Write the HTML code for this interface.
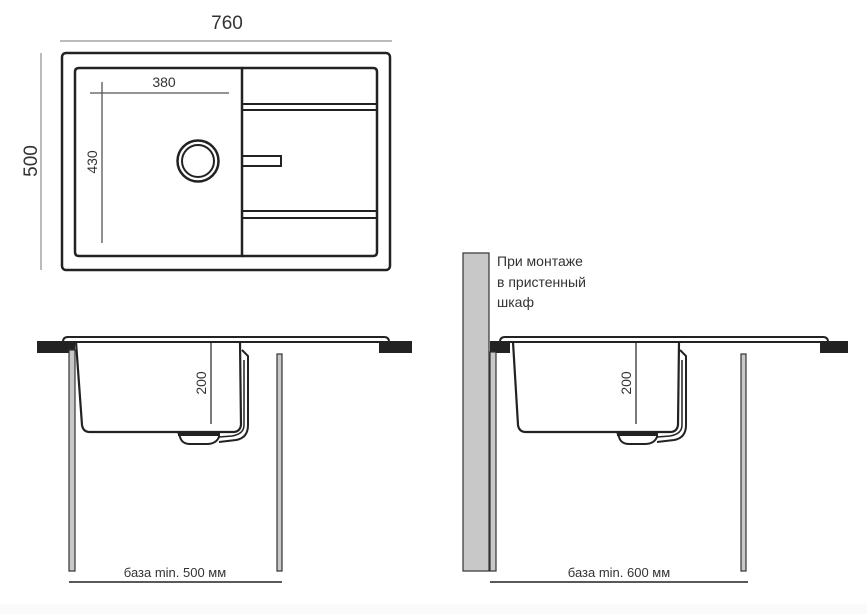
<!DOCTYPE html>
<html><head><meta charset="utf-8"><style>
body{margin:0;background:#fff}
svg{display:block}
text{font-family:"Liberation Sans",sans-serif;fill:#333}
</style></head><body>
<svg width="867" height="614" viewBox="0 0 867 614" xmlns="http://www.w3.org/2000/svg">
<rect x="0" y="604" width="867" height="10" fill="#fafafa"/>
<!-- top view -->
<line x1="60" y1="41" x2="392" y2="41" stroke="#777" stroke-width="1"/>
<text x="227" y="29" font-size="19" text-anchor="middle">760</text>
<line x1="41" y1="53" x2="41" y2="270" stroke="#777" stroke-width="1"/>
<text transform="translate(37,161) rotate(-90)" font-size="19" text-anchor="middle">500</text>
<rect x="62" y="53" width="328" height="217" rx="4" fill="none" stroke="#222" stroke-width="2.5"/>
<path d="M242,68 H79 Q75,68 75,72 V252 Q75,256 79,256 H242 Z" fill="none" stroke="#222" stroke-width="2.5"/>
<path d="M242,68 H373 Q377,68 377,72 V252 Q377,256 373,256 H242" fill="none" stroke="#222" stroke-width="2.5"/>
<rect x="242" y="104" width="135" height="6" fill="none" stroke="#222" stroke-width="2"/>
<rect x="242" y="211" width="135" height="7" fill="none" stroke="#222" stroke-width="2"/>
<rect x="242" y="156" width="39" height="10" fill="none" stroke="#222" stroke-width="2"/>
<circle cx="198" cy="161" r="20.5" fill="none" stroke="#222" stroke-width="2.5"/>
<circle cx="198" cy="161" r="16" fill="none" stroke="#222" stroke-width="2"/>
<line x1="90" y1="93" x2="229" y2="93" stroke="#555" stroke-width="1.3"/>
<text x="164" y="87" font-size="14" text-anchor="middle">380</text>
<line x1="102" y1="82" x2="102" y2="243" stroke="#555" stroke-width="1.3"/>
<text transform="translate(97,162) rotate(-90)" font-size="14" text-anchor="middle">430</text>

<!-- left side view -->
<g>
<rect x="37" y="341" width="38" height="12" fill="#222"/>
<rect x="379" y="341" width="33" height="12" fill="#222"/>
<path d="M63,342 Q63,337 68,337 H384 Q389,337 389,342 Z" fill="none" stroke="#222" stroke-width="2"/>
<rect x="69" y="350" width="6" height="221" fill="#c8c8c8" stroke="#333" stroke-width="1.2"/>
<rect x="277" y="354" width="5" height="217" fill="#c8c8c8" stroke="#333" stroke-width="1.2"/>
<path d="M76,342 L82,425 Q83,432 90,432 H233 Q240,432 241,425 L240,342" fill="none" stroke="#222" stroke-width="2.2"/>
<path d="M242,350 L248,356 L248,425 Q248,438 236,440 L219,442" fill="none" stroke="#222" stroke-width="2"/>
<path d="M244,360 L244,425 Q244,434 232,436 L219,437" fill="none" stroke="#222" stroke-width="1.5"/>
<path d="M178,432 H219 V437 Q216,444 207,444 H190 Q182,444 180,437 Z" fill="#fff" stroke="#222" stroke-width="2"/>
<rect x="178" y="432" width="41" height="4" fill="#222"/>
<line x1="211" y1="343" x2="211" y2="424" stroke="#333" stroke-width="1.3"/>
<text transform="translate(206,383) rotate(-90)" font-size="14" text-anchor="middle">200</text>
<line x1="69" y1="582" x2="282" y2="582" stroke="#222" stroke-width="1.5"/>
<text x="175" y="577" font-size="13" text-anchor="middle">база min. 500 мм</text>
</g>

<!-- right side view -->
<g>
<rect x="463" y="253" width="26" height="318" fill="#c8c8c8" stroke="#333" stroke-width="1.2"/>
<text x="497" y="266" font-size="14">При монтаже</text>
<text x="497" y="287" font-size="14">в пристенный</text>
<text x="497" y="307" font-size="14">шкаф</text>
<rect x="490" y="341" width="20" height="12" fill="#222"/>
<rect x="820" y="341" width="28" height="12" fill="#222"/>
<path d="M500,342 Q500,337 505,337 H823 Q828,337 828,342 Z" fill="none" stroke="#222" stroke-width="2"/>
<rect x="490" y="352" width="6" height="219" fill="#c8c8c8" stroke="#333" stroke-width="1.2"/>
<rect x="741" y="354" width="5" height="217" fill="#c8c8c8" stroke="#333" stroke-width="1.2"/>
<path d="M513,342 L518,425 Q519,432 526,432 H670 Q677,432 678,425 L679,342" fill="none" stroke="#222" stroke-width="2.2"/>
<path d="M680,350 L686,356 L686,425 Q686,438 674,440 L657,442" fill="none" stroke="#222" stroke-width="2"/>
<path d="M682,360 L682,425 Q682,434 670,436 L657,437" fill="none" stroke="#222" stroke-width="1.5"/>
<path d="M617,432 H657 V437 Q654,444 645,444 H629 Q621,444 619,437 Z" fill="#fff" stroke="#222" stroke-width="2"/>
<rect x="617" y="432" width="40" height="4" fill="#222"/>
<line x1="636" y1="343" x2="636" y2="424" stroke="#333" stroke-width="1.3"/>
<text transform="translate(631,383) rotate(-90)" font-size="14" text-anchor="middle">200</text>
<line x1="490" y1="582" x2="748" y2="582" stroke="#222" stroke-width="1.5"/>
<text x="619" y="577" font-size="13" text-anchor="middle">база min. 600 мм</text>
</g>
</svg>
</body></html>
